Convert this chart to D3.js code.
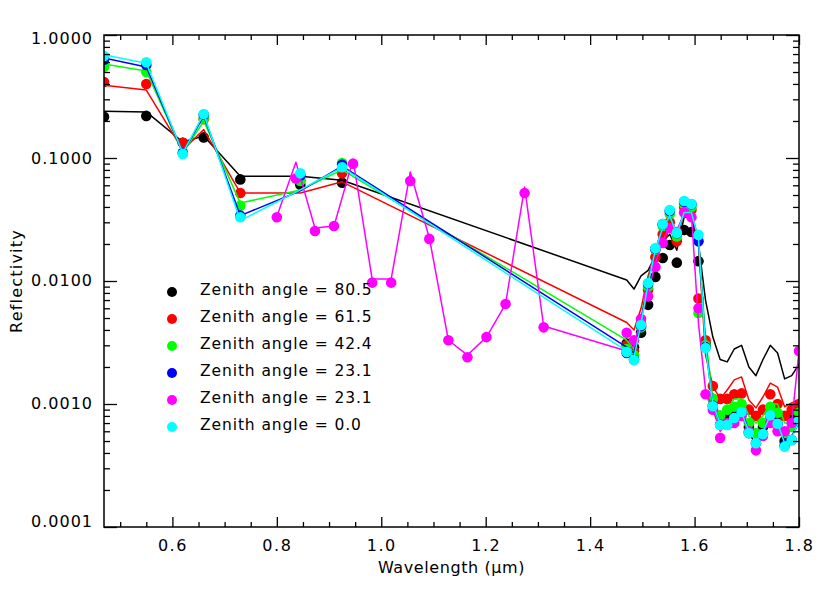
<!DOCTYPE html>
<html><head><meta charset="utf-8">
<script src="https://cdn.jsdelivr.net/npm/d3@7"></script>
<style>
html,body{margin:0;padding:0;background:#fff;}
svg text{font-family:"DejaVu Sans",sans-serif;fill:#000;}
</style></head>
<body><svg id="c" width="830" height="593"></svg>
<script>
// ---------- data ----------
const wlMain = [0.469, 0.55, 0.62, 0.66, 0.73, 0.845, 0.925,
  1.470, 1.484, 1.4975, 1.511, 1.525, 1.539, 1.5525, 1.566, 1.580, 1.594, 1.6075, 1.621, 1.635,
  1.649, 1.6625, 1.676, 1.690, 1.704, 1.7175, 1.731, 1.745, 1.759, 1.7725, 1.786, 1.800];
const wlMagenta = [0.80, 0.8365, 0.873, 0.9095, 0.946, 0.9825, 1.019, 1.0555, 1.092, 1.1285,
  1.165, 1.2015, 1.238, 1.2745, 1.311,
  1.470, 1.484, 1.4975, 1.511, 1.525, 1.539, 1.5525, 1.566, 1.580, 1.594, 1.6075, 1.621, 1.635,
  1.649, 1.6625, 1.676, 1.690, 1.704, 1.7175, 1.731, 1.745, 1.759, 1.7725, 1.786, 1.800];

const blackLine = [0.24, 0.237, 0.135, 0.151, 0.071, 0.071, 0.066,
  0.0102, 0.0086, 0.011, 0.0122, 0.016, 0.021, 0.024, 0.0178, 0.033, 0.033, 0.02, 0.007, 0.0035,
  0.0023, 0.0022, 0.0028, 0.003, 0.002, 0.0017, 0.0023, 0.003, 0.0026, 0.0016, 0.0017, 0.0021];
const blackDots = [0.216, 0.22, 0.133, 0.147, 0.067, 0.0605, 0.063,
  0.0031, 0.0029, 0.0038, 0.0064, 0.0108, 0.0154, 0.0196, 0.0141, 0.026, 0.025, 0.0145, 0.0031, 0.0011,
  0.0008, 0.0008, 0.00085, 0.0009, 0.00065, 0.00055, 0.00065, 0.0009, 0.00078, 0.0005, 0.00077, 0.0008];

const redLine = [0.39, 0.357, 0.116, 0.17, 0.052, 0.052, 0.064,
  0.0046, 0.004, 0.006, 0.011, 0.017, 0.025, 0.03, 0.022, 0.036, 0.036, 0.02, 0.0025, 0.0014,
  0.0011, 0.0013, 0.00157, 0.00166, 0.00108, 0.00093, 0.00114, 0.00148, 0.00137, 0.00095, 0.00102, 0.00108];
const redDots = [0.415, 0.40, 0.133, 0.207, 0.052, 0.066, 0.075,
  0.003, 0.0027, 0.0045, 0.0085, 0.0156, 0.024, 0.03, 0.021, 0.04, 0.038, 0.0072, 0.0033, 0.0014,
  0.0011, 0.0011, 0.0012, 0.00122, 0.0009, 0.0008, 0.0009, 0.0012, 0.001, 0.0008, 0.0009, 0.001];

const greenLine = [0.58, 0.51, 0.11, 0.2, 0.043, 0.055, 0.08,
  0.0033, 0.0028, 0.005, 0.01, 0.018, 0.027, 0.033, 0.024, 0.036, 0.036, 0.022, 0.0035, 0.0011,
  0.0008, 0.0009, 0.0011, 0.0011, 0.0008, 0.0007, 0.0008, 0.001, 0.001, 0.0007, 0.0007, 0.0008];
const greenDots = [0.55, 0.5, 0.11, 0.21, 0.041, 0.065, 0.091,
  0.0028, 0.0025, 0.0042, 0.009, 0.018, 0.028, 0.035, 0.023, 0.042, 0.04, 0.0055, 0.003, 0.0011,
  0.0008, 0.0009, 0.00095, 0.001, 0.0007, 0.00058, 0.0007, 0.00095, 0.00085, 0.00058, 0.00065, 0.00085];

const blueLine = [0.65, 0.55, 0.11, 0.22, 0.034, 0.054, 0.086,
  0.0029, 0.0026, 0.0048, 0.0098, 0.018, 0.027, 0.034, 0.024, 0.036, 0.036, 0.021, 0.003, 0.001,
  0.0007, 0.0007, 0.0008, 0.0009, 0.0006, 0.0005, 0.0006, 0.0008, 0.0007, 0.0005, 0.00055, 0.0007];
const blueDots = [0.63, 0.57, 0.11, 0.225, 0.034, 0.072, 0.088,
  0.0026, 0.0023, 0.0043, 0.0095, 0.0183, 0.029, 0.037, 0.0245, 0.044, 0.042, 0.021, 0.0029, 0.00097,
  0.00068, 0.00068, 0.00077, 0.00085, 0.00058, 0.00048, 0.00057, 0.0008, 0.00069, 0.00046, 0.00051, 0.00072];

const magentaLine = [0.0334, 0.0925, 0.027, 0.028, 0.097, 0.0104, 0.0104, 0.077, 0.0225, 0.0033,
  0.0025, 0.0035, 0.0065, 0.058, 0.0043,
  0.0027, 0.003, 0.005, 0.008, 0.014, 0.021, 0.028, 0.026, 0.035, 0.035, 0.0045, 0.0013, 0.0009,
  0.0006, 0.0007, 0.0007, 0.0008, 0.0006, 0.0005, 0.0006, 0.0007, 0.0006, 0.0006, 0.0007, 0.0027];
const magentaDots = [0.033, 0.068, 0.0255, 0.028, 0.09, 0.0097, 0.0097, 0.065, 0.022, 0.0033,
  0.0024, 0.0035, 0.0065, 0.052, 0.0042,
  0.0038, 0.0033, 0.0049, 0.0075, 0.013, 0.0204, 0.027, 0.025, 0.036, 0.033, 0.006, 0.0012, 0.0009,
  0.00053, 0.0007, 0.0007, 0.0008, 0.0006, 0.00042, 0.00055, 0.0007, 0.0006, 0.0006, 0.0007, 0.0027];

const cyanLine = [0.69, 0.59, 0.11, 0.228, 0.031, 0.055, 0.084,
  0.0027, 0.0024, 0.0045, 0.0095, 0.018, 0.027, 0.034, 0.024, 0.036, 0.036, 0.022, 0.0029, 0.001,
  0.0007, 0.0007, 0.0008, 0.00085, 0.0006, 0.0005, 0.0006, 0.0008, 0.0007, 0.00048, 0.00053, 0.00072];
const cyanDots = [0.675, 0.6, 0.108, 0.228, 0.033, 0.075, 0.084,
  0.00265, 0.00228, 0.00439, 0.00964, 0.0185, 0.0291, 0.0378, 0.0246, 0.0447, 0.0423, 0.0237, 0.00285, 0.00096,
  0.000675, 0.000675, 0.000769, 0.00086, 0.00058, 0.00048, 0.00057, 0.00081, 0.00069, 0.00045, 0.00051, 0.00074];

const seriesNames = ["Zenith angle = 80.5", "Zenith angle = 61.5", "Zenith angle = 42.4",
  "Zenith angle = 23.1", "Zenith angle = 23.1", "Zenith angle = 0.0"];
const seriesColors = ["#000000", "#ff0000", "#00ff00", "#0000ff", "#ff00ff", "#00ffff"];

const xMajorTicks = [0.6, 0.8, 1.0, 1.2, 1.4, 1.6, 1.8];
const xTickLabels = ["0.6", "0.8", "1.0", "1.2", "1.4", "1.6", "1.8"];
const yMajorTicks = [1, 0.1, 0.01, 0.001, 0.0001];
const yTickLabels = ["1.0000", "0.1000", "0.0100", "0.0010", "0.0001"];
const xTitle = "Wavelength (\u03bcm)";
const yTitle = "Reflectivity";

// ---------- layout ----------
const L = 104, R = 799, T = 35, B = 527;
const svg = d3.select("#c");
const x = d3.scaleLinear().domain([0.469, 1.8]).range([L, R]);
const y = d3.scaleLog().domain([0.0001, 1]).range([B, T]);

const xMinor = d3.range(0.5, 1.8001, 0.05).map(v => +v.toFixed(2)).filter(v => !xMajorTicks.some(m => Math.abs(m - v) < 1e-6));
const yMinor = [];
[0.0001, 0.001, 0.01, 0.1].forEach(d => { for (let k = 2; k <= 9; k++) yMinor.push(d * k); });

svg.append("defs").append("clipPath").attr("id", "clip")
  .append("rect").attr("x", L).attr("y", T).attr("width", R - L).attr("height", B - T);

const plot = svg.append("g").attr("clip-path", "url(#clip)");

const series = [
  { line: blackLine, dots: blackDots, wl: wlMain },
  { line: redLine, dots: redDots, wl: wlMain },
  { line: greenLine, dots: greenDots, wl: wlMain },
  { line: blueLine, dots: blueDots, wl: wlMain },
  { line: magentaLine, dots: magentaDots, wl: wlMagenta },
  { line: cyanLine, dots: cyanDots, wl: wlMain }
];

const lineGen = d3.line().x(d => x(d[0])).y(d => y(d[1]));
series.forEach((s, i) => {
  const pts = s.wl.map((w, j) => [w, s.line[j]]);
  plot.append("path").attr("d", lineGen(pts)).attr("fill", "none")
    .attr("stroke", seriesColors[i]).attr("stroke-width", 1.5).attr("stroke-linejoin", "round");
  plot.selectAll(null).data(s.wl.map((w, j) => [w, s.dots[j]])).enter().append("circle")
    .attr("cx", d => x(d[0])).attr("cy", d => y(d[1])).attr("r", 5.3).attr("fill", seriesColors[i]);
});

// ---------- axes ----------
function styleAxis(g) {
  g.select(".domain").remove();
  g.selectAll("line").attr("stroke", "#000").attr("stroke-width", 1.3);
  g.selectAll("text").style("font-size", "16px").style("font-family", "DejaVu Sans, sans-serif")
    .style("letter-spacing", "1.5px");
}
svg.append("g").attr("transform", `translate(0,${B})`)
  .call(d3.axisBottom(x).tickValues(xMajorTicks).tickSize(-10).tickPadding(13)
    .tickFormat((d, i) => xTickLabels[i])).call(styleAxis);
svg.append("g").attr("transform", `translate(0,${B})`)
  .call(d3.axisBottom(x).tickValues(xMinor).tickSize(-5).tickFormat("")).call(styleAxis);
svg.append("g").attr("transform", `translate(0,${T})`)
  .call(d3.axisTop(x).tickValues(xMajorTicks).tickSize(-10).tickFormat("")).call(styleAxis);
svg.append("g").attr("transform", `translate(0,${T})`)
  .call(d3.axisTop(x).tickValues(xMinor).tickSize(-5).tickFormat("")).call(styleAxis);

const yAx = svg.append("g").attr("transform", `translate(${L},0)`)
  .call(d3.axisLeft(y).tickValues(yMajorTicks).tickSize(-13).tickPadding(11)
    .tickFormat((d, i) => yTickLabels[i])).call(styleAxis);
const yLabelShift = [3, 0, -1, -1, -6];
yAx.selectAll("text").style("font-size", "16px").style("letter-spacing", "1px")
  .attr("y", (d, i) => yLabelShift[i]);
svg.append("g").attr("transform", `translate(${L},0)`)
  .call(d3.axisLeft(y).tickValues(yMinor).tickSize(-6).tickFormat("")).call(styleAxis);
svg.append("g").attr("transform", `translate(${R},0)`)
  .call(d3.axisRight(y).tickValues(yMajorTicks).tickSize(-13).tickFormat("")).call(styleAxis);
svg.append("g").attr("transform", `translate(${R},0)`)
  .call(d3.axisRight(y).tickValues(yMinor).tickSize(-6).tickFormat("")).call(styleAxis);

svg.append("rect").attr("x", L).attr("y", T).attr("width", R - L).attr("height", B - T)
  .attr("fill", "none").attr("stroke", "#000").attr("stroke-width", 1.5);

svg.append("text").attr("x", (L + R) / 2).attr("y", 573).attr("text-anchor", "middle")
  .style("font-size", "16px").style("letter-spacing", "0.6px").text(xTitle);
svg.append("text").attr("transform", `translate(22,${(T + B) / 2}) rotate(-90)`)
  .attr("text-anchor", "middle").style("font-size", "16px").style("letter-spacing", "1.2px").text(yTitle);

// ---------- legend ----------
const leg = svg.append("g");
seriesNames.forEach((n, i) => {
  const yy = 290 + i * 27;
  leg.append("circle").attr("cx", 172).attr("cy", yy + 2).attr("r", 5).attr("fill", seriesColors[i]);
  leg.append("text").attr("x", 200).attr("y", yy).attr("dy", "0.35em")
    .style("font-size", "15.5px").style("letter-spacing", "0.9px").text(n);
});
</script></body></html>
